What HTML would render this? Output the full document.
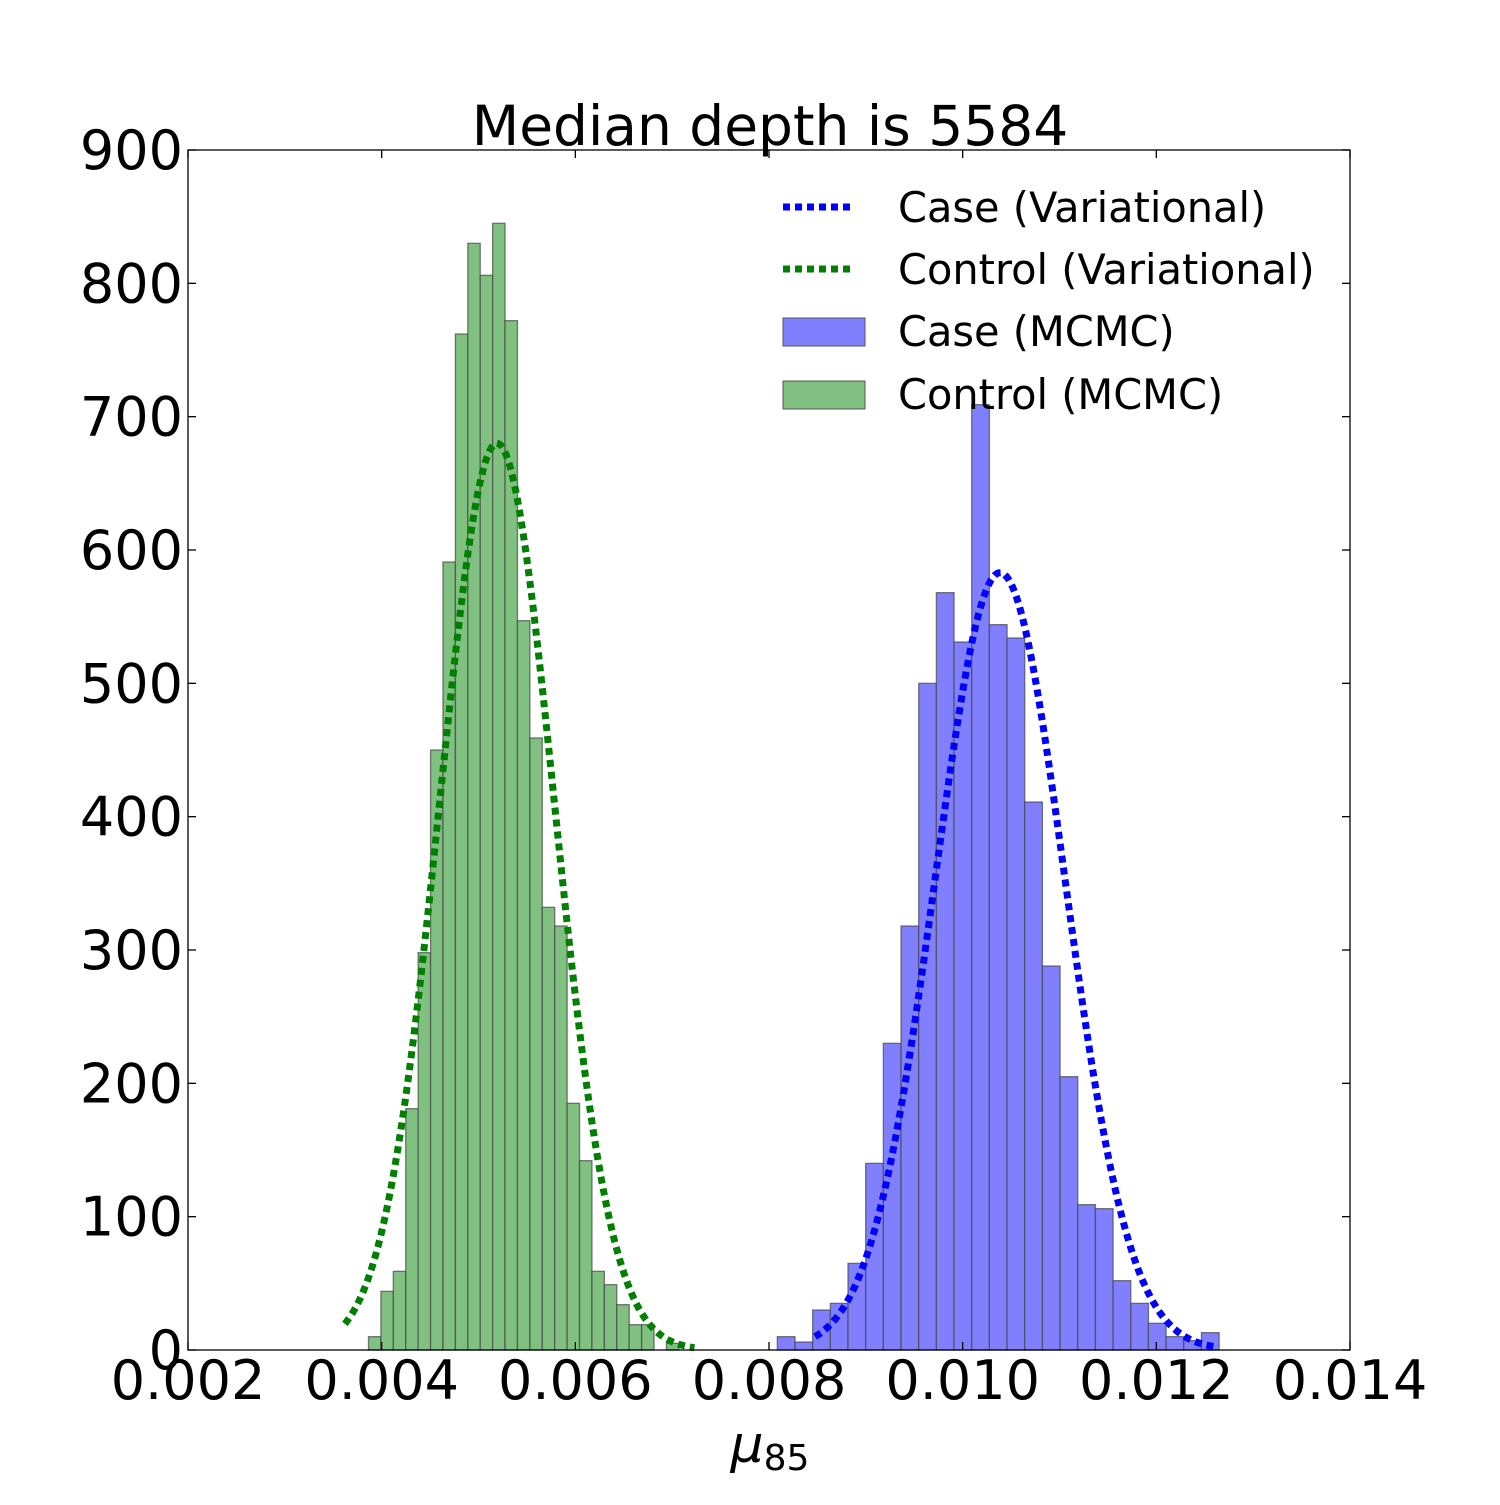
<!DOCTYPE html>
<html><head><meta charset="utf-8"><style>
body{margin:0;background:#fff}
svg text{font-family:"DejaVu Sans","Liberation Sans",sans-serif}
</style></head><body>
<svg width="1500" height="1500" viewBox="0 0 1500 1500" xmlns="http://www.w3.org/2000/svg">
<rect width="1500" height="1500" fill="#fff"/>
<text x="770" y="145" font-size="55" text-anchor="middle">Median depth is 5584</text>
<g id="marks"></g>
<rect x="188" y="150" width="1162" height="1200" fill="none" stroke="#000" stroke-width="1.3"/>
<g id="ticks"></g>
<text x="770" y="1462" font-size="52" text-anchor="middle" font-style="italic" font-family="Liberation Serif, serif">μ<tspan font-size="36" dy="8" font-style="normal">85</tspan></text>
<g>
<line x1="783" y1="207" x2="855" y2="207" stroke="#0000ff" stroke-width="7" stroke-dasharray="7,5"/>
<text x="898" y="222" font-size="41.5">Case (Variational)</text>
<line x1="783" y1="269" x2="855" y2="269" stroke="#007f00" stroke-width="7" stroke-dasharray="7,5"/>
<text x="898" y="284" font-size="41.5">Control (Variational)</text>
<rect x="783" y="318" width="82" height="28" fill="#8080ff" stroke="#555"/>
<text x="898" y="346" font-size="41.5">Case (MCMC)</text>
<rect x="783" y="381" width="82" height="28" fill="#80c080" stroke="#555"/>
<text x="898" y="409" font-size="41.5">Control (MCMC)</text>
</g>
</svg>
<script>
const controlCounts=[10,44,59,181,298,450,591,762,830,806,845,772,547,459,332,318,185,142,59,49,34,19,19,0,5];
const controlStart=0.003864, controlWidth=0.0001282;
const caseCounts=[10,6,30,35,65,140,230,318,500,568,531,709,544,534,411,288,205,109,106,52,35,20,10,7,13];
const caseStart=0.008086, caseWidth=0.0001825;
const controlFit={mu:0.005191,sigma:0.00059,peak:680,from:0.00362,to:0.00723};
const caseFit={mu:0.010386,sigma:0.00067,peak:583,from:0.008475,to:0.0126};
const xTicks=[0.002,0.004,0.006,0.008,0.010,0.012,0.014];
const xTickLabels=["0.002","0.004","0.006","0.008","0.010","0.012","0.014"];
const yTicks=[0,100,200,300,400,500,600,700,800,900];
const NS="http://www.w3.org/2000/svg";
const X=v=>188+(v-0.002)/0.012*1162;
const Y=v=>1350-v/900*1200;
const marks=document.getElementById('marks'), tg=document.getElementById('ticks');
function mk(tag,attrs,parent){const e=document.createElementNS(NS,tag);for(const k in attrs)e.setAttribute(k,attrs[k]);parent.appendChild(e);return e;}
function bars(counts,start,w,fill,name){counts.forEach((c,i)=>{if(c<=0)return;const x0=X(start+i*w),x1=X(start+(i+1)*w);
const r=mk('rect',{x:x0,y:Y(c),width:x1-x0,height:Y(0)-Y(c),fill:fill,stroke:'#444','stroke-opacity':0.7,'stroke-width':1.3},marks);

});}
bars(controlCounts,controlStart,controlWidth,'#80c080','control');
bars(caseCounts,caseStart,caseWidth,'#8080ff','case');
function curve(f,color,name){let d='';const n=200;for(let i=0;i<=n;i++){const v=f.from+(f.to-f.from)*i/n;const y=f.peak*Math.exp(-0.5*((v-f.mu)/f.sigma)**2);d+=(i?'L':'M')+X(v).toFixed(2)+' '+Y(y).toFixed(2);}
const p=mk('path',{d:d,fill:'none',stroke:color,'stroke-width':7,'stroke-dasharray':'7,5'},marks);

}
curve(controlFit,'#007f00','control-variational-curve');
curve(caseFit,'#0000ff','case-variational-curve');
xTicks.forEach((v,i)=>{const x=X(v);
mk('line',{x1:x,y1:1350,x2:x,y2:1342,stroke:'#000','stroke-width':1.3},tg);
mk('line',{x1:x,y1:150,x2:x,y2:158,stroke:'#000','stroke-width':1.3},tg);
const t=mk('text',{x:x,y:1399,'font-size':54,'text-anchor':'middle'},tg);t.textContent=xTickLabels[i];

});
yTicks.forEach(v=>{const y=Y(v);
mk('line',{x1:188,y1:y,x2:196,y2:y,stroke:'#000','stroke-width':1.3},tg);
mk('line',{x1:1350,y1:y,x2:1342,y2:y,stroke:'#000','stroke-width':1.3},tg);
const t=mk('text',{x:183,y:y+19,'font-size':54,'text-anchor':'end'},tg);t.textContent=String(v);

});
</script>
</body></html>
